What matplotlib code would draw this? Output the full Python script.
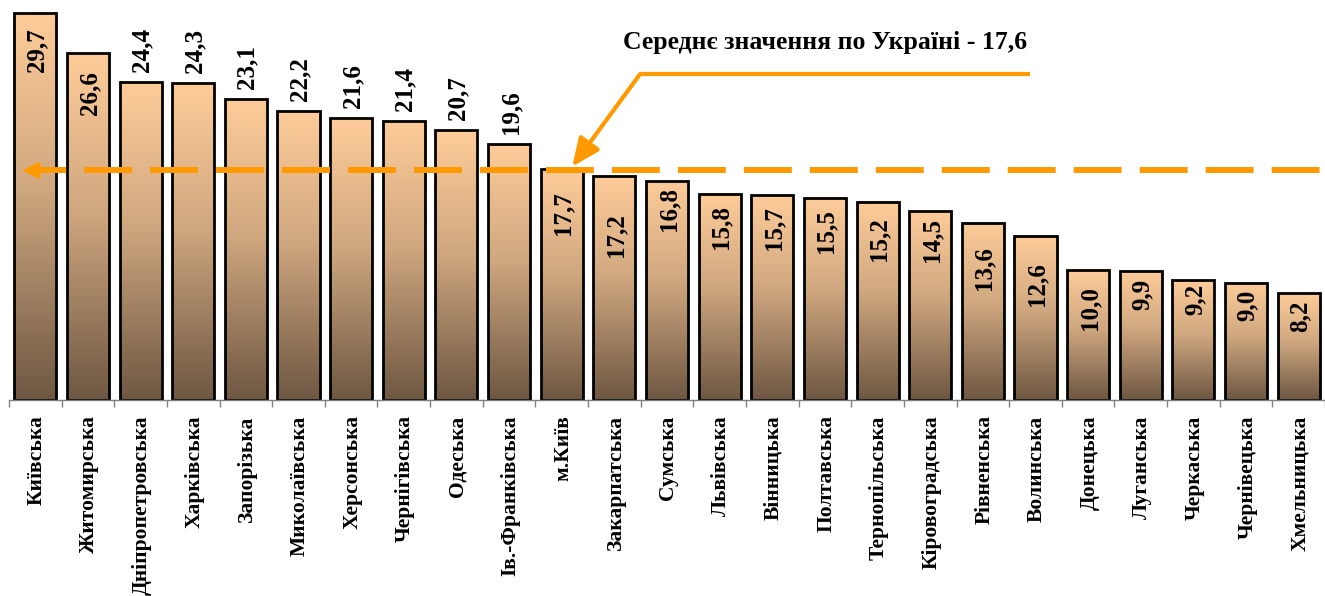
import numpy as np
import matplotlib
matplotlib.use("Agg")
import matplotlib.pyplot as plt
from matplotlib.colors import LinearSegmentedColormap

regions = ["Київська", "Житомирська", "Дніпропетровська", "Харківська", "Запорізька",
           "Миколаївська", "Херсонська", "Чернігівська", "Одеська", "Ів.-Франківська",
           "м.Київ", "Закарпатська", "Сумська", "Львівська", "Вінницька", "Полтавська",
           "Тернопільська", "Кіровоградська", "Рівненська", "Волинська", "Донецька",
           "Луганська", "Черкаська", "Чернівецька", "Хмельницька"]
values = [29.7, 26.6, 24.4, 24.3, 23.1, 22.2, 21.6, 21.4, 20.7, 19.6,
          17.7, 17.2, 16.8, 15.8, 15.7, 15.5, 15.2, 14.5, 13.6, 12.6,
          10.0, 9.9, 9.2, 9.0, 8.2]
avg_value = 17.6
avg_label = "Середнє значення по Україні - 17,6"

# label placement: positive = above the bar, negative = inside, distance in px
label_pos = [-16, -18, 10, 10, 10, 10, 10, 10, 10, 10,
             -22, -37, -6, -11, -11, -11, -15, -7, -23, -26,
             -17, -8, -4, -7, -7]

plt.rcParams['font.family'] = ['Liberation Serif', 'DejaVu Serif']
plt.rcParams['font.weight'] = 'bold'
plt.rcParams['lines.scale_dashes'] = False

orange = "#FF9900"
cmap = LinearSegmentedColormap.from_list(
    "bar", [(0.0, "#6E5742"), (0.55, "#D0A880"), (1.0, "#FECC99")])
grad = np.linspace(0, 1, 256).reshape(-1, 1)

fig = plt.figure(figsize=(13.25, 5.96), dpi=100)
ax = fig.add_axes([9 / 1325, 196 / 596, 1316 / 1325, 400 / 596])

x = np.arange(len(values))
w = 0.8
for xi, v in zip(x, values):
    ax.imshow(grad, extent=(xi - w / 2, xi + w / 2, 0, v), origin='lower',
              cmap=cmap, aspect='auto', zorder=1)
ax.bar(x, values, width=w, facecolor='none', edgecolor='black', linewidth=2, zorder=2)

px = 72 / 100
for xi, v, off in zip(x, values, label_pos):
    lbl = f"{v:.1f}".replace(".", ",")
    ax.annotate(lbl, (xi, v), xytext=(1, off * px), textcoords='offset points',
                rotation=90, ha='center', va='bottom' if off > 0 else 'top',
                fontsize=18, fontweight='bold', zorder=4)

# category labels below the axis
for xi, name in zip(x, regions):
    ax.annotate(name, (xi, 0), xycoords=('data', 'axes fraction'), xytext=(1, -11),
                textcoords='offset points', rotation=90, ha='center', va='top',
                fontsize=15.5, fontweight='bold', annotation_clip=False)

# average line with arrow head on the left
ax.plot([0.07, 24.5], [avg_value, avg_value], color=orange, lw=4.3,
        linestyle=(15, (34.5, 13)), zorder=3, dash_capstyle='butt')
ax.annotate('', xy=(-0.25, avg_value), xytext=(0.1, avg_value),
            arrowprops=dict(arrowstyle='-|>,head_length=1.3,head_width=0.65',
                            color=orange, lw=0, shrinkA=0, shrinkB=0), zorder=3)

# callout
ax.plot([18.9, 11.49], [25.0, 25.0], color=orange, lw=3, solid_capstyle='butt', zorder=3)
ax.annotate('', xy=(10.2, avg_value + 0.3), xytext=(11.49, 25.0),
            arrowprops=dict(arrowstyle='-|>,head_length=1.7,head_width=0.75',
                            color=orange, lw=3, shrinkA=0, shrinkB=0), zorder=3)
ax.text(15.0, 27.4, avg_label, ha='center', va='center', fontsize=18.5, fontweight='bold')

ax.set_xlim(-0.5, len(values) - 0.5)
ax.set_ylim(0, 400 / 13.04)
ax.set_xticks(np.arange(-0.5, len(values), 1))
ax.set_xticklabels([])
ax.tick_params(axis='x', length=5, width=1, color='#808080', direction='out')
ax.set_yticks([])
for s in ['top', 'right', 'left']:
    ax.spines[s].set_visible(False)
ax.spines['bottom'].set_color('#808080')
ax.spines['bottom'].set_linewidth(1)

fig.savefig("out.png", dpi=100)
